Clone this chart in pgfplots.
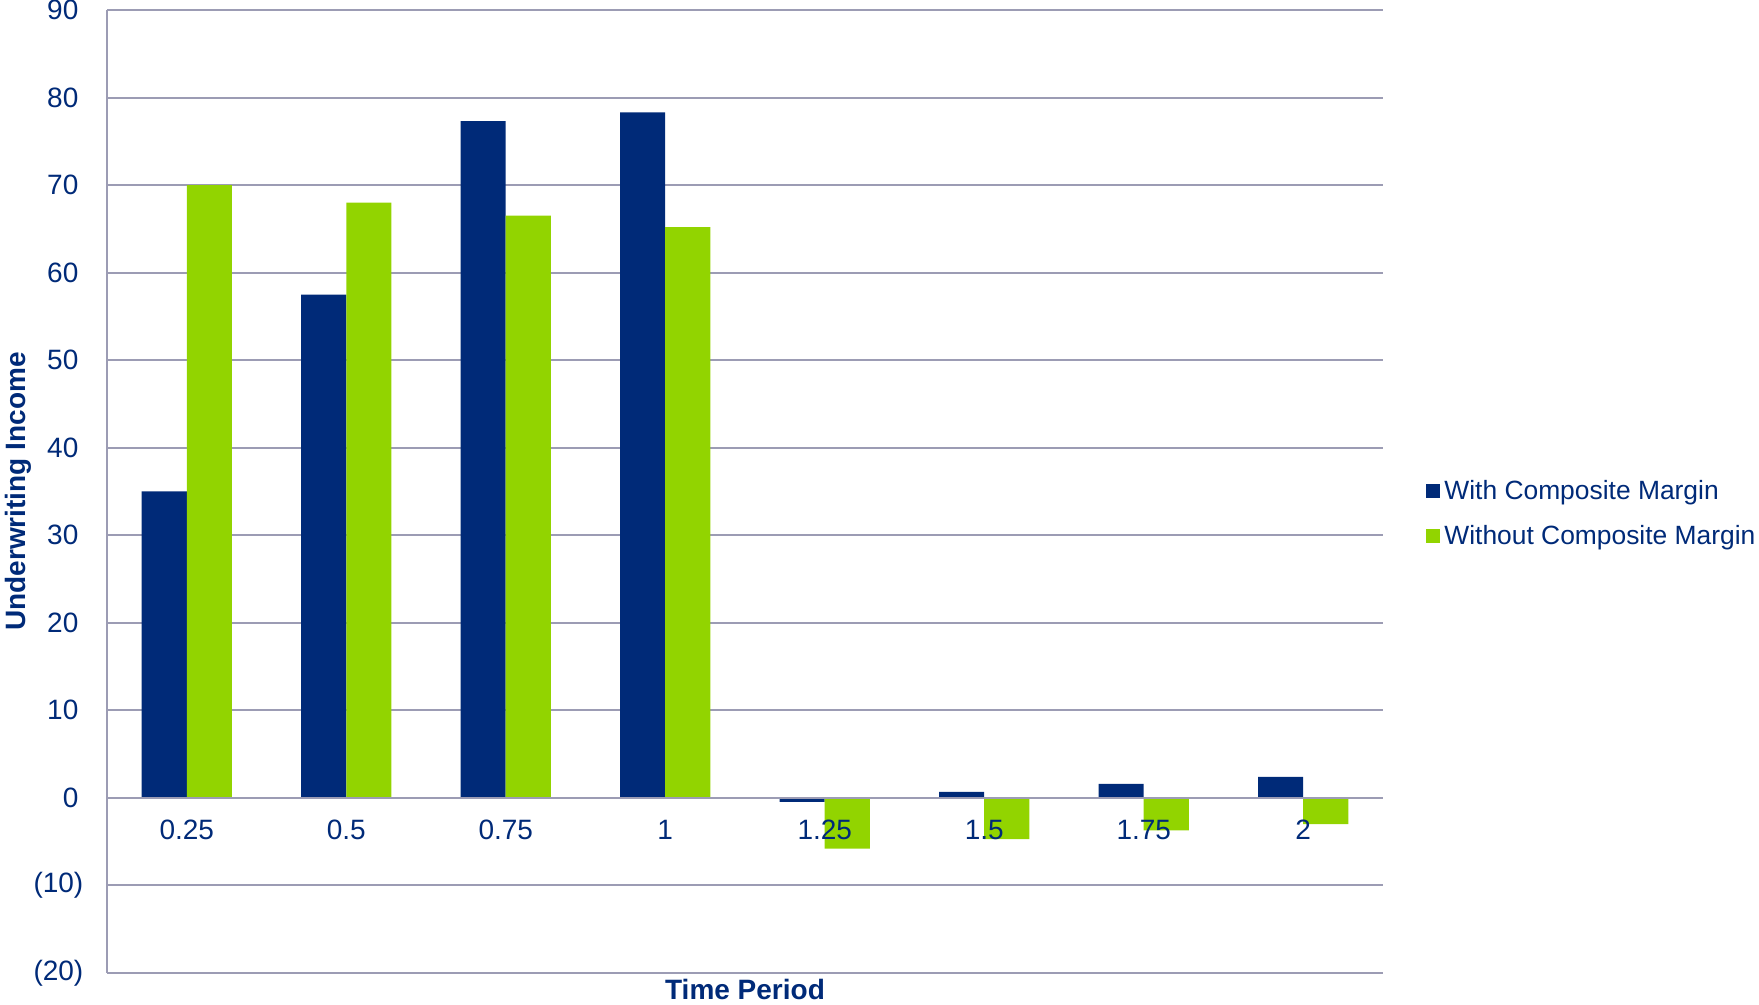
\documentclass[border=0pt]{standalone}
\usepackage{fontspec}
\setmainfont{Liberation Sans}
\usepackage{pgfplots}
\pgfplotsset{compat=1.18}
\definecolor{navy}{HTML}{002A78}
\definecolor{lime}{HTML}{92D400}
\definecolor{gridc}{HTML}{9C9CB4}

\newcommand{\pad}{\rule{2.5pt}{0pt}}

\begin{document}
\begin{tikzpicture}
  \begin{axis}[
      set layers,
      % bars above the grid, below the tick labels
      every axis plot/.append style={on layer=axis ticks},
      scale only axis, width=638pt, height=481.5pt,
      ybar=0pt, bar width=22.5pt,
      xmin=-0.5, xmax=7.5, ymin=-20, ymax=90,
      xtick=data, xticklabels={0.25,0.5,0.75,1,1.25,1.5,1.75,2},
      ytick={-20,-10,...,90},
      yticklabels={(20),(10),0\pad,10\pad,20\pad,30\pad,40\pad,50\pad,
        60\pad,70\pad,80\pad,90\pad},
      axis y line*=left, axis x line*=middle,
      axis line style={gridc, line width=1pt},
      ymajorgrids, grid style={gridc, line width=1pt},
      major tick length=0pt,
      tick label style={font=\fontsize{14}{16}\selectfont, text=navy},
      yticklabel style={xshift=-8.3pt},
      xticklabel style={yshift=-7.5pt},
      xlabel={Time Period}, ylabel={Underwriting Income},
      label style={font=\bfseries\fontsize{14}{16}\selectfont, text=navy},
      xlabel style={at={(axis description cs:0.5,-0.0208)}, anchor=center, yshift=2pt},
      ylabel style={at={(axis description cs:-0.0705,0.5)}, anchor=center, yshift=-0.5pt},
      legend style={draw=none, fill=none, at={(axis description cs:1,0.48)},
        anchor=west, xshift=21.5pt, yshift=-1.5pt, font=\fontsize{13.2}{15}\selectfont,
        text=navy, row sep=7.5pt, inner sep=0pt, cells={anchor=west}},
      legend image code/.code={\fill[#1] (0pt,-3.5pt) rectangle (7pt,3.5pt);},
    ]

    \addplot[fill=navy, draw=none] coordinates {
      (0, 35.0) (1, 57.5) (2, 77.3) (3, 78.3)
      (4, -0.45) (5, 0.7) (6, 1.6) (7, 2.4)
    };

    \addplot[fill=lime, draw=none] coordinates {
      (0, 70.0) (1, 68.0) (2, 66.5) (3, 65.2)
      (4, -5.8) (5, -4.7) (6, -3.7) (7, -3.0)
    };

    \legend{With Composite Margin, Without Composite Margin}
  \end{axis}
  % fix the page size to the reference proportions
  \pgfresetboundingbox
  \path[use as bounding box] (-53.5pt,-16pt) rectangle (826pt,486.5pt);
\end{tikzpicture}
\end{document}
